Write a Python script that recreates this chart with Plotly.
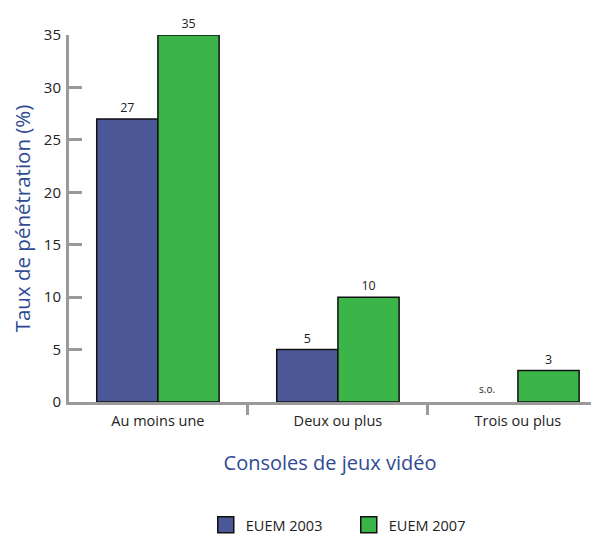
import plotly.graph_objects as go

categories = ["Au moins une", "Deux ou plus", "Trois ou plus"]
euem_2003 = [27, 5, None]
euem_2007 = [35, 10, 3]
labels_2003 = ["27", "5", ""]
labels_2007 = ["35", "10", "3"]
y_ticks = [0, 5, 10, 15, 20, 25, 30, 35]
series_names = ["EUEM 2003", "EUEM 2007"]

BLUE = "#4b5796"
GREEN = "#3bb54a"
TITLE_BLUE = "#2f4a94"
AXIS_GREY = "#9a9a9a"
EDGE = "#111111"
FONT = "Open Sans"

fig = go.Figure()
for name, values, labels, color in [
    (series_names[0], euem_2003, labels_2003, BLUE),
    (series_names[1], euem_2007, labels_2007, GREEN),
]:
    fig.add_trace(go.Bar(
        name=name, x=categories, y=values, showlegend=False,
        marker=dict(color=color, line=dict(color=EDGE, width=1.5)),
        text=labels, textposition="outside",
        textfont=dict(size=12.5, color="#222222", family=FONT),
        cliponaxis=False,
    ))
    # larger square swatch for the legend
    fig.add_trace(go.Scatter(
        name=name, x=[None], y=[None], mode="markers",
        marker=dict(symbol="square", size=16, color=color,
                    line=dict(color=EDGE, width=1.5)),
    ))

# "sans objet" marker where 2003 has no value
fig.add_annotation(
    x=categories[2], y=0, xshift=-31, yshift=4, yanchor="bottom",
    text="s.o.", showarrow=False,
    font=dict(size=10, color="#222222", family=FONT),
)

fig.update_layout(
    width=591, height=535,
    margin=dict(l=69, r=0, t=35, b=133, autoexpand=False),
    paper_bgcolor="white", plot_bgcolor="white",
    barmode="group", bargap=0.32, bargroupgap=0,
    font=dict(family=FONT, color="#222222"),
    legend=dict(
        orientation="h", x=0.262, xanchor="left",
        y=-0.335, yanchor="middle",
        font=dict(size=14.5, family=FONT, color="#222222"),
        traceorder="normal", itemwidth=30,
        entrywidth=98, entrywidthmode="pixels",
    ),
)

fig.update_xaxes(
    type="category", range=[-0.494, 2.406], automargin=False,
    tickson="boundaries", ticks="outside", ticklen=10, tickwidth=2.5,
    tickcolor=AXIS_GREY, showline=True, linecolor=AXIS_GREY, linewidth=3,
    tickfont=dict(size=14.5, family=FONT, color="#222222"),
    ticklabelstandoff=4,
    showgrid=False, zeroline=False,
    title=dict(text="Consoles de jeux vidéo", standoff=27,
               font=dict(size=20, family=FONT, color=TITLE_BLUE)),
)
fig.update_yaxes(
    range=[0, 35], tickvals=y_ticks, automargin=False,
    ticks="inside", ticklen=13, tickwidth=2.5, tickcolor=AXIS_GREY,
    showline=True, linecolor=AXIS_GREY, linewidth=3,
    tickfont=dict(size=15, family=FONT, color="#222222"),
    ticklabelstandoff=2,
    showgrid=False, zeroline=False,
    title=dict(text="Taux de pénétration (%)", standoff=8,
               font=dict(size=20.5, family=FONT, color=TITLE_BLUE)),
)

fig.write_html("out.html")
